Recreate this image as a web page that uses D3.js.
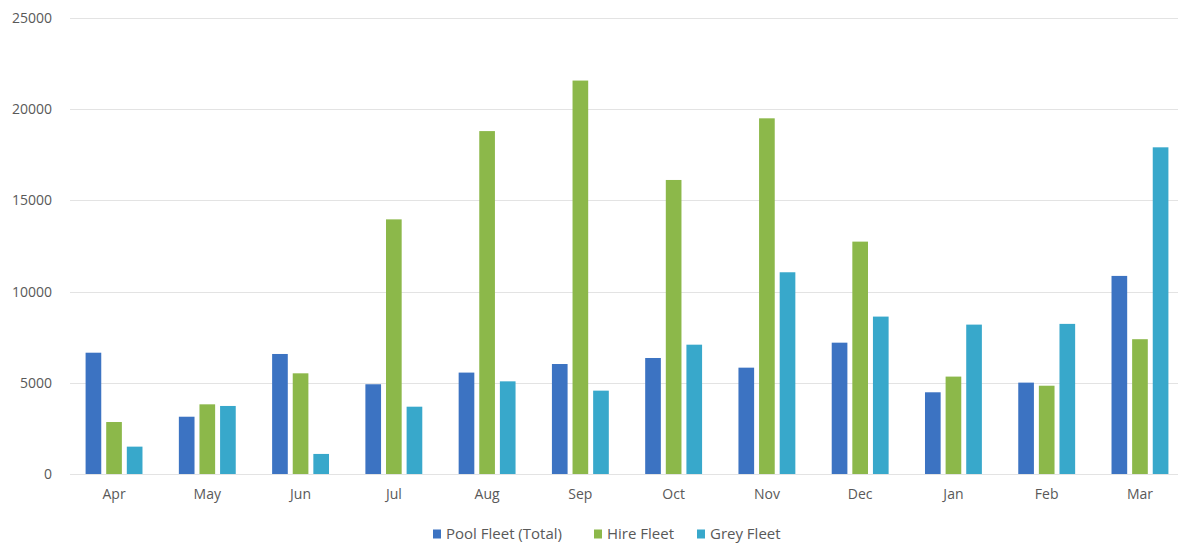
<!DOCTYPE html>
<html>
<head>
<meta charset="utf-8">
<script src="https://cdn.jsdelivr.net/npm/d3@7"></script>
<style>
  html, body { margin: 0; padding: 0; background: #fff; }
  svg { display: block; }
  text { font-family: "Open Sans", "Noto Sans", sans-serif; fill: #595959; }
</style>
</head>
<body>
<svg id="chart" width="1178" height="554"></svg>
<script>
// Monthly fleet figures
const months = ["Apr","May","Jun","Jul","Aug","Sep","Oct","Nov","Dec","Jan","Feb","Mar"];
const seriesNames = ["Pool Fleet (Total)", "Hire Fleet", "Grey Fleet"];
const poolFleet = [6650, 3140, 6580, 4920, 5560, 6030, 6360, 5830, 7200, 4480, 5010, 10860];
const hireFleet = [2850, 3820, 5520, 13960, 18800, 21570, 16120, 19500, 12740, 5340, 4840, 7390];
const greyFleet = [1500, 3730, 1100, 3690, 5080, 4570, 7090, 11060, 8630, 8190, 8230, 17910];
const yTicks = [0, 5000, 10000, 15000, 20000, 25000];
const colors = ["#3c73c2", "#8cb84a", "#38a8cb"];

const svg = d3.select("#chart");
const margin = { left: 67.4, right: -8.6, top: 18, bottom: 80 };
const W = 1178, H = 554;
const plotBottom = 474;

const x0 = d3.scaleBand()
  .domain(months)
  .range([margin.left, W - margin.right])
  .paddingInner(0.39)
  .paddingOuter(0.195);

const x1 = d3.scaleBand()
  .domain(seriesNames)
  .range([0, x0.bandwidth()])
  .paddingInner(0.24);

const y = d3.scaleLinear().domain([0, 25000]).range([plotBottom, margin.top]);

// Gridlines
svg.append("g")
  .selectAll("line")
  .data(yTicks)
  .join("line")
  .attr("x1", 70).attr("x2", W)
  .attr("y1", d => Math.round(y(d)) + 0.5)
  .attr("y2", d => Math.round(y(d)) + 0.5)
  .attr("stroke", "#e3e3e3")
  .attr("stroke-width", 1.2);

// Y axis labels
const yAxis = d3.axisLeft(y).tickValues(yTicks).tickSize(0).tickPadding(0).tickFormat(d3.format("d"));
svg.append("g")
  .attr("transform", "translate(52,0)")
  .call(yAxis)
  .call(g => g.select(".domain").remove())
  .call(g => g.selectAll("text")
    .style("font-size", "14px")
    .style("fill", "#595959")
    .style("font-family", "'Open Sans', sans-serif"));

// Bars
const data = months.map((m, i) => ({
  month: m,
  values: [poolFleet[i], hireFleet[i], greyFleet[i]]
}));

const groups = svg.append("g")
  .selectAll("g")
  .data(data)
  .join("g")
  .attr("transform", d => `translate(${x0(d.month)},0)`);

groups.selectAll("rect")
  .data(d => d.values.map((v, j) => ({ name: seriesNames[j], value: v, j })))
  .join("rect")
  .attr("x", d => x1(d.name))
  .attr("width", x1.bandwidth())
  .attr("y", d => y(d.value))
  .attr("height", d => plotBottom - y(d.value))
  .attr("fill", d => colors[d.j]);

// X axis labels
const xAxis = d3.axisBottom(x0).tickSize(0).tickPadding(0);
svg.append("g")
  .attr("transform", `translate(0,${plotBottom + 15})`)
  .call(xAxis)
  .call(g => g.select(".domain").remove())
  .call(g => g.selectAll("text")
    .style("font-size", "14px")
    .style("fill", "#595959")
    .style("font-family", "'Open Sans', sans-serif"));

// Legend
const legendX = [433, 594, 697];
const legend = svg.append("g")
  .selectAll("g")
  .data(seriesNames)
  .join("g")
  .attr("transform", (d, i) => `translate(${legendX[i]},534)`);

legend.append("rect")
  .attr("x", 0).attr("y", -4.5)
  .attr("width", 8).attr("height", 9)
  .attr("fill", (d, i) => colors[i]);

legend.append("text")
  .attr("x", 13)
  .attr("dy", "0.35em")
  .style("font-size", "15px")
  .text(d => d);
</script>
</body>
</html>
